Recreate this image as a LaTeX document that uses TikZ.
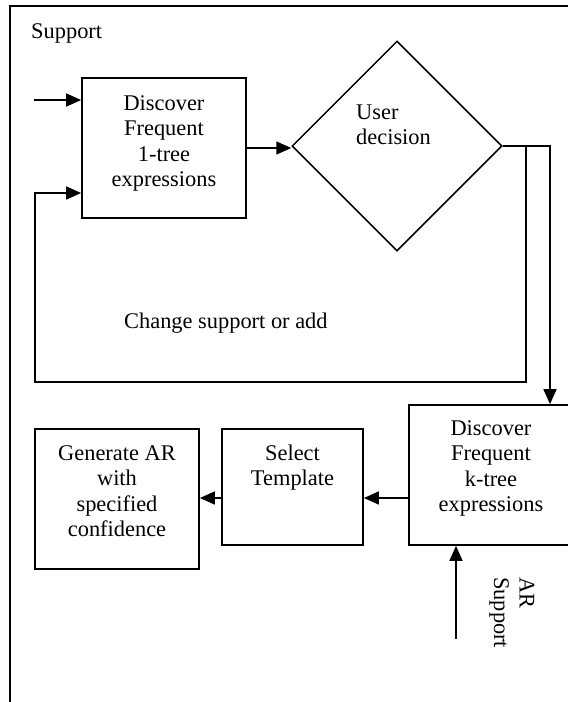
\documentclass[tikz,border=0pt]{standalone}
\usepackage{fontspec}
\setmainfont{Liberation Serif}
\usetikzlibrary{arrows.meta,shapes.geometric}

\begin{document}
\begin{tikzpicture}[x=1pt,y=-1pt,
  box/.style={draw, line width=1.7pt, inner sep=0pt, rectangle},
  lbl/.style={font=\fontsize{22.4}{25.5}\selectfont, inner sep=0pt},
  flow/.style={line width=1.6pt, -{Triangle[length=15pt,width=13pt]}}]
\useasboundingbox (0,0) rectangle (568,702);
\begin{scope}
\clip (0,0) rectangle (568,702);
% outer frame
\draw[line width=1.4pt] (10,720) -- (10,6) -- (600,6);

% process boxes
\node[box, minimum width=164pt, minimum height=140pt] (d1) at (164,148) {};
\node[draw, line width=1.5pt, diamond, aspect=1, inner sep=0pt,
      minimum width=210pt, minimum height=210pt] (dec) at (397,146) {};
\node[box, minimum width=164pt, minimum height=140pt] (dk) at (491,475) {};
\node[box, minimum width=141pt, minimum height=116pt] (sel) at (292.5,487) {};
\node[box, minimum width=164pt, minimum height=140pt] (gen) at (117,499) {};

% labels (base anchor sits on the last line of each label)
\node[lbl, anchor=base west] (supp) at (31,38) {Support};
\node[lbl, align=center, anchor=base] (d1t) at (164,186.5) {Discover\\Frequent\\1-tree\\expressions};
\node[lbl, align=left, anchor=base west] (dect) at (356,144.5) {User\\decision};
\node[lbl, anchor=base west] (chg) at (124,328) {Change support or add};
\node[lbl, align=center, anchor=base] (dkt) at (491,511.5) {Discover\\Frequent\\k-tree\\expressions};
\node[lbl, align=center, anchor=base] (selt) at (292.5,485.5) {Select\\Template};
\node[lbl, align=center, anchor=base] (gent) at (117,536.5) {Generate AR\\with\\specified\\confidence};
\node[lbl, align=left, anchor=base west, rotate=-90] (ars) at (494,577) {AR\\Support};

% connector end points
\coordinate (in1) at (34,100);
\coordinate (loopR) at (526,146);
\coordinate (loopBR) at (526,382);
\coordinate (loopBL) at (35,382);
\coordinate (loopUp) at (35,193);
\coordinate (downR) at (550,146);
\coordinate (arIn) at (456,639);

% connectors
\draw[flow] (in1) -- (in1 -| d1.west);
\draw[flow] (d1.east) -- (d1.east -| dec.west);
\draw[flow] (dec.east) -- (loopR) -- (loopBR) -- (loopBL) -- (loopUp) -- (loopUp -| d1.west);
\draw[flow] (dec.east) -- (downR) -- (downR |- dk.north);
\draw[flow] (dk.west |- 0,498) -- (sel.east |- 0,498);
\draw[flow] (sel.west |- 0,498) -- (gen.east |- 0,498);
\draw[flow] (arIn) -- (arIn |- dk.south);
\end{scope}
\end{tikzpicture}
\end{document}
